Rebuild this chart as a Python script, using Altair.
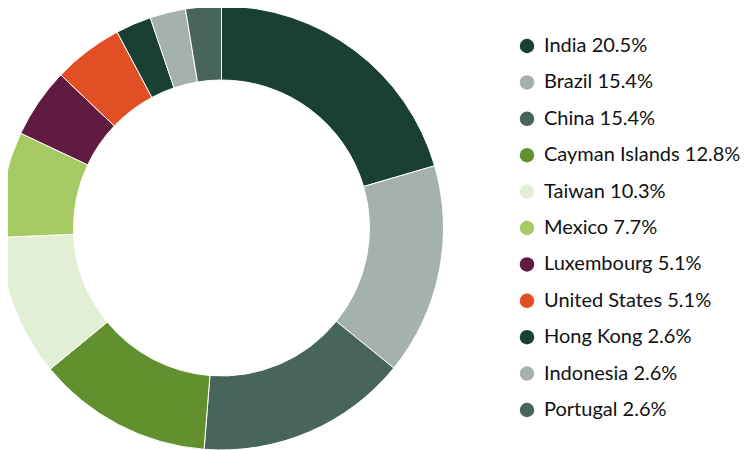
import altair as alt
import pandas as pd

countries = ["India", "Brazil", "China", "Cayman Islands", "Taiwan", "Mexico",
             "Luxembourg", "United States", "Hong Kong", "Indonesia", "Portugal"]
shares = [20.5, 15.4, 15.4, 12.8, 10.3, 7.7, 5.1, 5.1, 2.6, 2.6, 2.6]
colors = ["#1a4035", "#a4b1ae", "#48655c", "#62902f", "#e3efd5", "#a5ca64",
          "#621b40", "#e34f24", "#1a4035", "#a4b1ae", "#48655c"]

labels = [f"{c} {s}%" for c, s in zip(countries, shares)]
df = pd.DataFrame({"label": labels, "share": shares, "order": list(range(len(labels)))})

chart = alt.Chart(df).mark_arc(
    innerRadius=148, outerRadius=222, stroke="white", strokeWidth=1
).encode(
    theta=alt.Theta("share:Q", stack=True),
    order=alt.Order("order:Q"),
    x=alt.value(213.5),
    y=alt.value(220),
    color=alt.Color(
        "label:N",
        scale=alt.Scale(domain=labels, range=colors),
        sort=labels,
        legend=alt.Legend(
            title=None, orient="none", legendX=509, legendY=28,
            symbolType="circle", symbolSize=210, symbolStrokeWidth=0,
            labelFont="Lato", labelFontSize=20, labelColor="#111111",
            labelOffset=7, rowPadding=16.4, labelLimit=300,
        ),
    ),
).properties(
    width=734, height=442, padding=0, autosize=alt.AutoSizeParams(type="none")
).configure_view(stroke=None)

chart.save("out.html", embed_options={"renderer": "svg", "actions": False})
